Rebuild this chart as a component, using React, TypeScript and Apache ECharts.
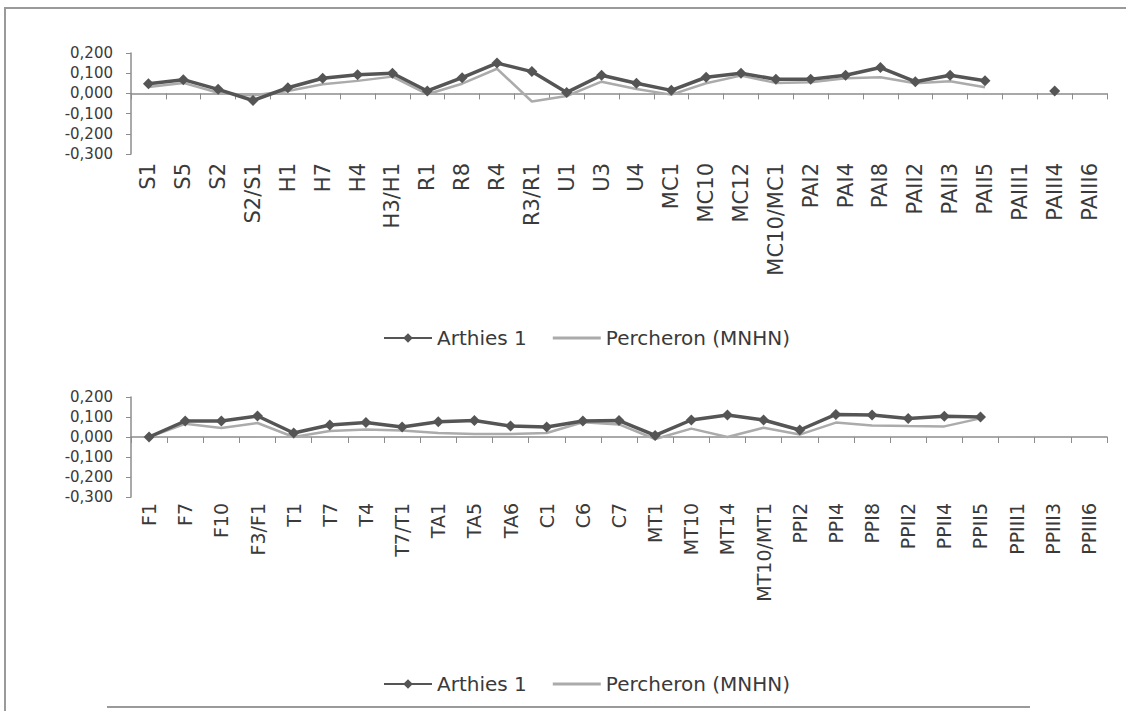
import React, { useEffect, useRef } from "react";
import * as echarts from "echarts";

const topCategories = [
  "S1", "S5", "S2", "S2/S1", "H1", "H7", "H4", "H3/H1", "R1", "R8", "R4", "R3/R1",
  "U1", "U3", "U4", "MC1", "MC10", "MC12", "MC10/MC1", "PAI2", "PAI4", "PAI8",
  "PAII2", "PAII3", "PAII5", "PAIII1", "PAIII4", "PAIII6",
];
const topArthies: (number | null)[] = [
  0.048, 0.068, 0.02, -0.035, 0.028, 0.075, 0.092, 0.1, 0.012, 0.078, 0.15, 0.108,
  0.005, 0.09, 0.05, 0.015, 0.08, 0.1, 0.07, 0.07, 0.09, 0.128,
  0.058, 0.09, 0.063, null, 0.012, null,
];
const topPercheron: (number | null)[] = [
  0.032, 0.052, 0.003, -0.01, 0.012, 0.045, 0.062, 0.083, -0.004, 0.048, 0.122, -0.04,
  -0.013, 0.058, 0.022, -0.006, 0.05, 0.088, 0.052, 0.055, 0.075, 0.08,
  0.05, 0.06, 0.03, null, null, null,
];

const bottomCategories = [
  "F1", "F7", "F10", "F3/F1", "T1", "T7", "T4", "T7/T1", "TA1", "TA5", "TA6", "C1",
  "C6", "C7", "MT1", "MT10", "MT14", "MT10/MT1", "PPI2", "PPI4", "PPI8", "PPII2",
  "PPII4", "PPII5", "PPIII1", "PPIII3", "PPIII6",
];
const bottomArthies: (number | null)[] = [
  0.0, 0.08, 0.08, 0.105, 0.02, 0.06, 0.072, 0.05, 0.076, 0.082, 0.055, 0.05,
  0.08, 0.082, 0.008, 0.085, 0.11, 0.085, 0.035, 0.113, 0.11, 0.093,
  0.104, 0.1, null, null, null,
];
const bottomPercheron: (number | null)[] = [
  0.0, 0.066, 0.045, 0.07, 0.0, 0.03, 0.038, 0.032, 0.02, 0.015, 0.015, 0.02,
  0.074, 0.063, -0.01, 0.042, 0.0, 0.046, 0.012, 0.072, 0.058, 0.055,
  0.053, 0.093, null, null, null,
];

const yTicks = { min: -0.3, max: 0.2, interval: 0.1 };
const seriesNames = ["Arthies 1", "Percheron (MNHN)"];

const FONT = "DejaVu Sans";
const AXIS_GRAY = "#8c8c8c";
const TEXT = "#3a3a3a";
const DARK = "#555555";
const LIGHT = "#ababab";

const fmt = (v: number) => {
  const x = Math.abs(v) < 1e-9 ? 0 : v;
  return x.toFixed(3).replace(".", ",");
};

function makeX(idx: number, data: string[], margin: number, fontSize: number) {
  return {
    type: "category",
    gridIndex: idx,
    data,
    boundaryGap: true,
    axisLine: { onZero: true, lineStyle: { color: AXIS_GRAY, width: 1.5 } },
    axisTick: { show: true, length: 6, alignWithLabel: false, lineStyle: { color: AXIS_GRAY } },
    axisLabel: {
      rotate: 90,
      interval: 0,
      margin,
      color: TEXT,
      fontFamily: FONT,
      fontSize,
    },
    splitLine: { show: false },
  };
}

function makeY(idx: number) {
  return {
    type: "value",
    gridIndex: idx,
    min: yTicks.min,
    max: yTicks.max,
    interval: yTicks.interval,
    axisLine: { show: true, lineStyle: { color: AXIS_GRAY, width: 1.5 } },
    axisTick: { show: true, length: 5, lineStyle: { color: AXIS_GRAY } },
    axisLabel: {
      formatter: fmt,
      color: TEXT,
      fontFamily: FONT,
      fontSize: 15,
      margin: 18,
    },
    splitLine: { show: false },
  };
}

function makeSeries(idx: number, arthies: (number | null)[], perch: (number | null)[]) {
  return [
    {
      name: seriesNames[1],
      type: "line",
      xAxisIndex: idx,
      yAxisIndex: idx,
      data: perch,
      symbol: "none",
      showSymbol: false,
      connectNulls: false,
      lineStyle: { color: LIGHT, width: 2.5 },
      itemStyle: { color: LIGHT },
      z: 2,
    },
    {
      name: seriesNames[0],
      type: "line",
      xAxisIndex: idx,
      yAxisIndex: idx,
      data: arthies,
      symbol: "diamond",
      symbolSize: 11,
      showSymbol: true,
      connectNulls: false,
      lineStyle: { color: DARK, width: 3.5 },
      itemStyle: { color: DARK },
      z: 3,
    },
  ];
}

function makeLegend(top: number) {
  return {
    top,
    left: 378,
    data: [
      { name: seriesNames[0] },
      { name: seriesNames[1], icon: "path://M0,0H48V3H0Z", itemStyle: { color: LIGHT } },
    ],
    itemWidth: 48,
    itemHeight: 12,
    itemGap: 26,
    textStyle: { color: TEXT, fontFamily: FONT, fontSize: 20 },
    selectedMode: false,
  };
}

export default function App() {
  const ref = useRef<HTMLDivElement>(null);
  useEffect(() => {
    if (!ref.current) return;
    const chart = echarts.init(ref.current, null, { renderer: "svg" });
    chart.setOption({
      animation: false,
      backgroundColor: "#ffffff",
      grid: [
        { left: 131, top: 53, width: 976, height: 101 },
        { left: 131, top: 397, width: 976, height: 100 },
      ],
      xAxis: [makeX(0, topCategories, 9, 21), makeX(1, bottomCategories, 6, 19)],
      yAxis: [makeY(0), makeY(1)],
      legend: [makeLegend(323), makeLegend(669)],
      series: [
        ...makeSeries(0, topArthies, topPercheron),
        ...makeSeries(1, bottomArthies, bottomPercheron),
      ],
      graphic: [
        {
          type: "polyline",
          shape: { points: [[5, 711], [5, 8], [1126, 8]] },
          style: { stroke: "#9a9a9a", lineWidth: 2, fill: "none" },
          silent: true,
        },
        {
          type: "line",
          shape: { x1: 107, y1: 707, x2: 1030, y2: 707 },
          style: { stroke: "#9a9a9a", lineWidth: 2 },
          silent: true,
        },
      ],
    });
    return () => chart.dispose();
  }, []);
  return (
    <div
      ref={ref}
      style={{ position: "fixed", left: 0, top: 0, width: 1133, height: 711, background: "#fff" }}
    />
  );
}
